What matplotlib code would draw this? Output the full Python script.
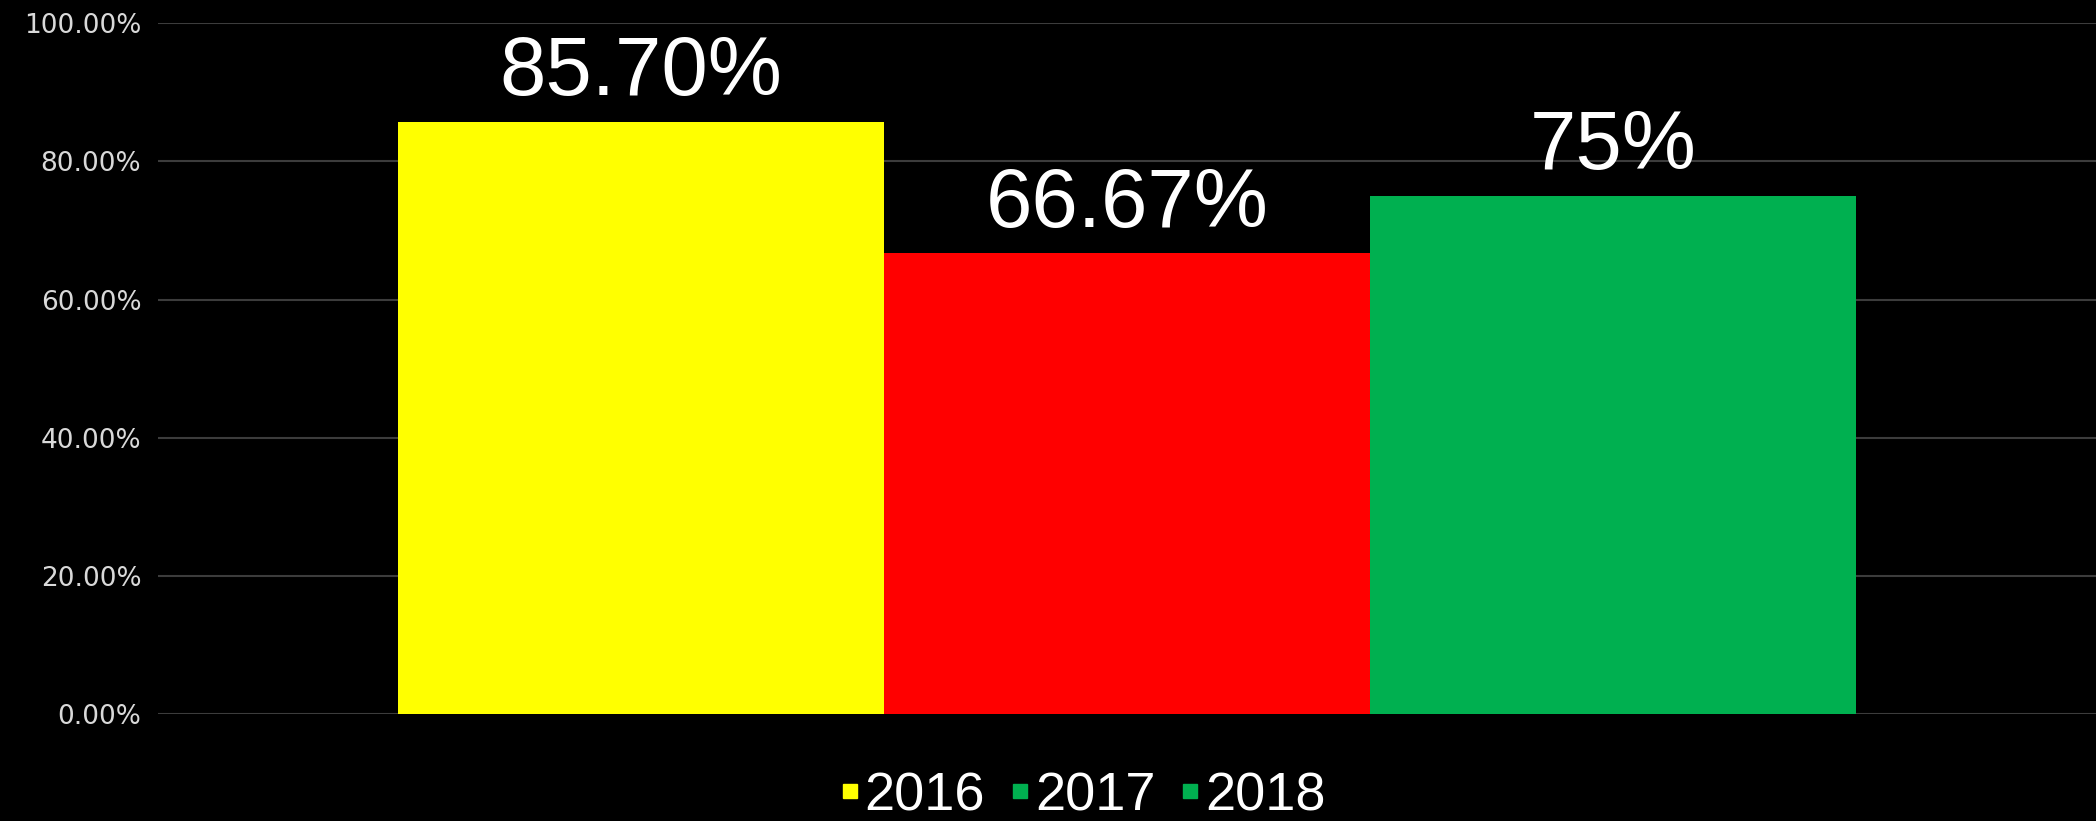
import numpy as np
import matplotlib.pyplot as plt
from matplotlib.lines import Line2D

# datos
years = ['2016', '2017', '2018']
values = [85.70, 66.67, 75.0]
value_labels = ['85.70%', '66.67%', '75%']
bar_colors = ['#FFFF00', '#FF0000', '#00B050']
legend_colors = ['#FFFF00', '#00B050', '#00B050']  # asi sale en el original
yticks = [0, 20, 40, 60, 80, 100]

fig = plt.figure(figsize=(20.96, 8.21), dpi=100, facecolor='black')
ax = fig.add_axes([0.0754, 0.130, 0.9246, 0.842])
ax.set_facecolor('black')

w = 0.2508
for i, (v, c, lab) in enumerate(zip(values, bar_colors, value_labels)):
    bars = ax.bar((i - 1) * w, v, width=w, color=c, zorder=2)
    ax.bar_label(bars, labels=[lab], padding=7, fontsize=60, color='white',
                 family='Liberation Sans')

ax.set_xlim(-0.5, 0.5)
ax.set_ylim(0, 100)
ax.set_yticks(yticks)
ax.set_yticklabels([f'{t:.2f}%' for t in yticks], fontsize=19, color='#d9d9d9')
ax.set_xticks([])
ax.tick_params(axis='y', length=0, pad=12)
ax.grid(axis='y', color='#3c3c3c', linewidth=1.5, zorder=0)
for s in ax.spines.values():
    s.set_visible(False)

handles = [Line2D([], [], marker='s', linestyle='none', markersize=9.5,
                  markerfacecolor=c, markeredgecolor=c) for c in legend_colors]
leg = fig.legend(handles, years, loc='center', bbox_to_anchor=(0.517, 0.03),
                 ncol=3, frameon=False, handlelength=0.3,
                 handletextpad=0.12, columnspacing=0.5, borderpad=0,
                 prop={'family': 'Liberation Sans', 'size': 39})
for t in leg.get_texts():
    t.set_color('white')

plt.savefig('out.png', dpi=100, facecolor='black')
